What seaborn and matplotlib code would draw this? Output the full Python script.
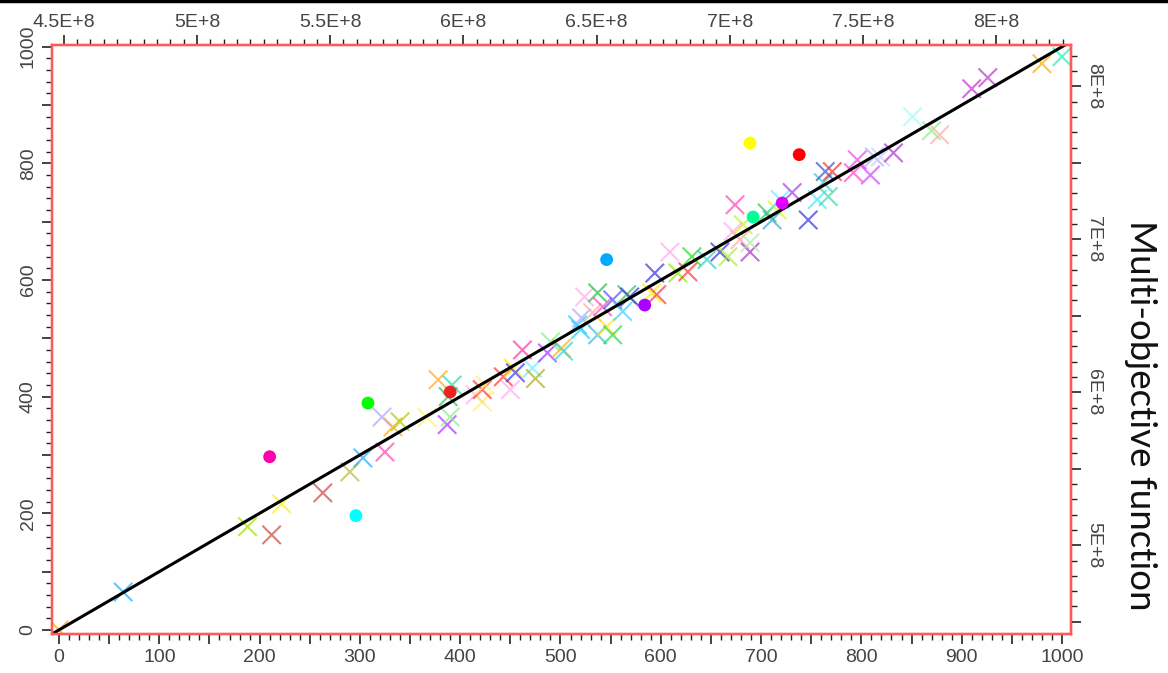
import matplotlib
matplotlib.use("Agg")
import matplotlib.pyplot as plt
from matplotlib.ticker import MultipleLocator, FuncFormatter
from matplotlib.lines import Line2D
import seaborn as sns
import pandas as pd

# Run results: single-objective score (x) vs. multi-objective score (y)
cross_x = [0, 64, 188, 212, 222, 263, 290, 303, 322, 325, 333, 340, 367, 378,
           392, 388, 387, 390, 415, 422, 422, 425, 443, 450, 453, 455, 472, 475,
           462, 487, 490, 501, 503, 520, 517, 521, 524, 532, 537, 537, 542, 546,
           552, 552, 562, 566, 569, 591, 596, 594, 609, 617, 627, 631, 646, 659,
           667, 674, 672, 679, 682, 689, 689, 706, 711, 716, 719, 731, 747, 756,
           762, 767, 764, 771, 792, 796, 809, 813, 819, 832, 851, 870, 878, 910,
           926, 980, 1000]
cross_y = [0, 65, 177, 163, 216, 235, 271, 295, 365, 305, 348, 357, 364, 429,
           420, 400, 352, 365, 403, 391, 412, 420, 434, 412, 449, 441, 449, 431,
           480, 475, 494, 483, 478, 515, 523, 535, 571, 544, 578, 506, 554, 520,
           566, 506, 546, 575, 571, 578, 575, 612, 648, 612, 614, 640, 635, 648,
           640, 729, 683, 669, 695, 648, 664, 715, 703, 720, 738, 750, 703, 738,
           767, 743, 786, 786, 784, 806, 780, 811, 811, 818, 880, 856, 849, 928,
           947, 971, 983]
cross_color = ["#ffaa00", "#22aaff", "#aadd00", "#cc4444", "#ffee00", "#cc4444",
               "#bbbb33", "#22aaff", "#aaaaff", "#ff44bb", "#ffaa22", "#aacc00",
               "#ffee66", "#ffaa22", "#22ddaa", "#22cc44", "#aa33ff", "#88ee88",
               "#ffaaee", "#ffee66", "#ff3333", "#ffee66", "#ff3333", "#ffaaee",
               "#ffee00", "#3333ff", "#66eeff", "#aaaa22", "#ff33aa", "#aa33ff",
               "#88ee88", "#ffaa22", "#22dddd", "#22ccff", "#22ccff", "#aaaaff",
               "#ffaaee", "#ffaa99", "#22bb44", "#33bbdd", "#ff44cc", "#ffee00",
               "#5555ee", "#22dd44", "#44ccff", "#22cc44", "#3333dd", "#ffee00",
               "#ff3333", "#3333dd", "#ffaaee", "#88ee00", "#ff3333", "#22dd22",
               "#33cccc", "#3333dd", "#aaee22", "#ff44bb", "#ffaaee", "#ffaaaa",
               "#ccee22", "#aa33cc", "#aaeeaa", "#22cc44", "#33aadd", "#ddee33",
               "#66eeff", "#aa33ff", "#3333dd", "#33eeff", "#33cccc", "#33ddaa",
               "#3355cc", "#ee3333", "#ff44cc", "#ee44ee", "#cc44ff", "#aaaaff",
               "#ccccff", "#aa33cc", "#99ffff", "#88ee88", "#ffaaaa", "#bb33cc",
               "#bb33cc", "#ffaa00", "#22eebb"]

dot_x = [210, 308, 296, 390, 546, 584, 692, 689, 738, 721]
dot_y = [297, 389, 196, 408, 635, 557, 708, 835, 815, 732]
dot_color = ["#ff00aa", "#00ff00", "#00ffff", "#ee2222", "#00aaff",
             "#aa00ff", "#00ff99", "#ffff00", "#ff0000", "#dd00ff"]

top_ticks = [4.5e8, 5e8, 5.5e8, 6e8, 6.5e8, 7e8, 7.5e8, 8e8]
right_ticks = [5e8, 6e8, 7e8, 8e8]
right_label = "Multi-objective function"

sns.set_theme(style="white")
plt.rcParams["font.family"] = ["Liberation Sans", "DejaVu Sans"]

fig = plt.figure(figsize=(11.68, 6.73), dpi=100)
ax = fig.add_axes([52 / 1168, 1 - 634 / 673, (1071 - 52) / 1168, (634 - 45) / 673])

crosses = pd.DataFrame({"x": cross_x, "y": cross_y,
                        "id": [f"c{i}" for i in range(len(cross_x))]})
dots = pd.DataFrame({"x": dot_x, "y": dot_y,
                     "id": [f"d{i}" for i in range(len(dot_x))]})

sns.scatterplot(data=crosses, x="x", y="y", hue="id", palette=cross_color,
                marker="x", s=175, linewidth=1.5, alpha=0.7, legend=False,
                ax=ax, zorder=3)
ax.axline((0, 0), (1000, 1000), color="black", lw=2.2, zorder=4)
sns.scatterplot(data=dots, x="x", y="y", hue="id", palette=dot_color,
                marker="o", s=85, linewidth=0, legend=False, ax=ax, zorder=5)

ax.set_xlim(-7, 1009)
ax.set_ylim(-7, 1003)
ax.set_xlabel("")
ax.set_ylabel("")

spine_red = "#ff5a5a"
tick_kw = dict(colors="#222222", labelcolor="#444444", labelsize=14)

ax.xaxis.set_major_locator(MultipleLocator(50))
ax.xaxis.set_minor_locator(MultipleLocator(10))
ax.xaxis.set_major_formatter(FuncFormatter(lambda v, p: f"{v:.0f}" if round(v) % 100 == 0 else ""))
ax.yaxis.set_major_locator(MultipleLocator(100))
ax.yaxis.set_minor_locator(MultipleLocator(20))
ax.yaxis.set_major_formatter(FuncFormatter(lambda v, p: f"{v:.0f}" if round(v) % 200 == 0 else ""))
ax.tick_params(axis="both", which="major", direction="out", length=7, width=1.2, **tick_kw)
ax.tick_params(axis="both", which="minor", direction="out", length=4, width=1.0, colors="#222222")
ax.tick_params(axis="x", pad=4, bottom=True, which="both")
ax.tick_params(axis="y", pad=4, left=True, which="both")
for lab in ax.get_yticklabels():
    lab.set_rotation(90)
    lab.set_va("center")

for sp in ax.spines.values():
    sp.set_color(spine_red)
    sp.set_linewidth(1.6)

# Upper scale for the raw objective value
top = ax.twiny()
top.set_xlim(4.4555e8, 8.2816e8)
top.set_xticks(top_ticks)
top.xaxis.set_minor_locator(MultipleLocator(0.05e8))
top.xaxis.set_major_formatter(FuncFormatter(lambda v, p: f"{v / 1e8:g}E+8"))
top.tick_params(axis="x", which="major", direction="out", length=7, width=1.2, pad=3, **tick_kw)
top.tick_params(axis="x", which="minor", direction="out", length=4, width=1.0, colors="#222222")

# Right scale for the multi-objective value
right = ax.twinx()
right.set_ylim(4.42e8, 8.27e8)
right.yaxis.set_major_locator(MultipleLocator(0.5e8))
right.yaxis.set_minor_locator(MultipleLocator(0.1e8))
right.yaxis.set_major_formatter(FuncFormatter(lambda v, p: f"{v / 1e8:g}E+8" if v in right_ticks else ""))
right.tick_params(axis="y", which="major", direction="out", length=7, width=1.2, pad=3, **tick_kw)
right.tick_params(axis="y", which="minor", direction="out", length=4, width=1.0, colors="#222222")
for lab in right.get_yticklabels():
    lab.set_rotation(-90)
    lab.set_va("center")

fig.text(1141 / 1168, 1 - 415 / 673, right_label, rotation=-90, fontsize=26.5,
         family=["Lato", "DejaVu Sans"], color="#111111", ha="center", va="center")

for a in (top, right):
    for sp in a.spines.values():
        sp.set_color(spine_red)
        sp.set_linewidth(1.6)
    a.grid(False)
ax.grid(False)

fig.add_artist(Line2D([0, 1], [0.998, 0.998], color="black", lw=2.5,
                      transform=fig.transFigure))

fig.savefig("out.png", dpi=100)
